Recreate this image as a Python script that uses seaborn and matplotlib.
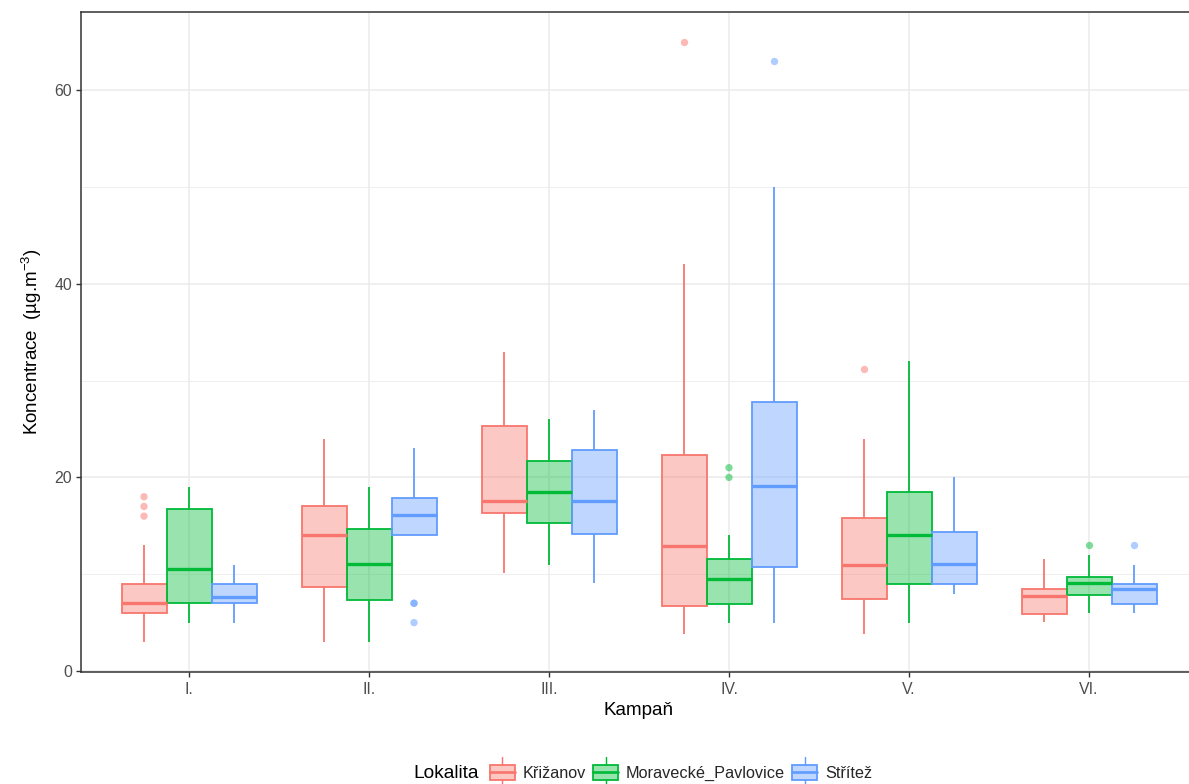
import numpy as np
import pandas as pd
import matplotlib
matplotlib.use("Agg")
import matplotlib.pyplot as plt
import seaborn as sns
from matplotlib.patches import Patch, Rectangle
from matplotlib.lines import Line2D
from matplotlib.legend_handler import HandlerBase
from matplotlib.ticker import FixedLocator

# ---------------- data ----------------
campaigns = ["I.", "II.", "III.", "IV.", "V.", "VI."]
sites = ["Křižanov", "Moravecké_Pavlovice", "Střítež"]
colors = ["#F8766D", "#00BA38", "#619CFF"]

# box statistics per campaign: lower whisker, Q1, median, Q3, upper whisker
krizanov_low = [3.0, 3.0, 10.1, 3.8, 3.8, 5.1]
krizanov_q1 = [6.0, 8.7, 16.3, 6.7, 7.4, 5.9]
krizanov_med = [7.0, 14.1, 17.6, 12.9, 11.0, 7.7]
krizanov_q3 = [9.0, 17.0, 25.3, 22.3, 15.8, 8.5]
krizanov_high = [13.0, 24.0, 33.0, 42.0, 24.0, 11.6]

pavlovice_low = [5.0, 3.0, 11.0, 5.0, 5.0, 6.0]
pavlovice_q1 = [7.0, 7.3, 15.3, 6.9, 9.0, 7.9]
pavlovice_med = [10.5, 11.1, 18.5, 9.5, 14.1, 9.1]
pavlovice_q3 = [16.7, 14.7, 21.7, 11.6, 18.5, 9.7]
pavlovice_high = [19.0, 19.0, 26.0, 14.0, 32.0, 12.0]

stritez_low = [5.0, 14.0, 9.1, 5.0, 8.0, 6.0]
stritez_q1 = [7.0, 14.0, 14.2, 10.7, 9.0, 6.9]
stritez_med = [7.6, 16.1, 17.6, 19.1, 11.1, 8.5]
stritez_q3 = [9.0, 17.9, 22.8, 27.8, 14.4, 9.0]
stritez_high = [11.0, 23.0, 27.0, 50.0, 20.0, 11.0]

# outliers
outlier_campaign = ["I.", "I.", "I.", "II.", "II.", "II.", "IV.", "IV.", "IV.", "IV.", "V.", "VI.", "VI."]
outlier_site = ["Křižanov", "Křižanov", "Křižanov", "Střítež", "Střítež", "Střítež",
                "Křižanov", "Moravecké_Pavlovice", "Moravecké_Pavlovice", "Střítež",
                "Křižanov", "Moravecké_Pavlovice", "Střítež"]
outlier_value = [18.0, 17.0, 16.0, 7.0, 7.0, 5.0, 65.0, 21.0, 20.0, 63.0, 31.2, 13.0, 13.0]

stats = {
    "Křižanov": [krizanov_low, krizanov_q1, krizanov_med, krizanov_q3, krizanov_high],
    "Moravecké_Pavlovice": [pavlovice_low, pavlovice_q1, pavlovice_med, pavlovice_q3, pavlovice_high],
    "Střítež": [stritez_low, stritez_q1, stritez_med, stritez_q3, stritez_high],
}

rows = []
for site in sites:
    cols = stats[site]
    for i, camp in enumerate(campaigns):
        for arr in cols:
            rows.append({"Kampaň": camp, "Lokalita": site, "value": arr[i]})
df = pd.DataFrame(rows)
out_df = pd.DataFrame({"Kampaň": outlier_campaign, "Lokalita": outlier_site, "value": outlier_value})

# ---------------- style ----------------
sns.set_theme(style="white")
plt.rcParams["font.family"] = ["Liberation Sans", "DejaVu Sans"]
plt.rcParams["mathtext.fontset"] = "custom"
plt.rcParams["mathtext.rm"] = "Liberation Sans"
plt.rcParams["mathtext.it"] = "Liberation Sans:italic"
plt.rcParams["mathtext.bf"] = "Liberation Sans:bold"

W, H = 1189, 784
fig = plt.figure(figsize=(W / 100, H / 100), dpi=100)
ax_left, ax_bottom, ax_right, ax_top = 81, 112, 1197, 11.7
ax = fig.add_axes([ax_left / W, ax_bottom / H, (ax_right - ax_left) / W, (H - ax_top - ax_bottom) / H])

palette = dict(zip(sites, colors))
fill_alpha = 0.4
box_lw = 1.3
med_lw = 2.4

for site, col in zip(sites, colors):
    n_before = len(ax.patches)
    sub = df[df["Lokalita"] == site]
    sns.boxplot(data=sub, x="Kampaň", y="value", hue="Lokalita",
                order=campaigns, hue_order=sites, palette=palette, dodge=True,
                whis=np.inf, width=0.75, gap=0, saturation=1,
                linecolor=col, linewidth=box_lw, showcaps=False, showfliers=False,
                medianprops={"linewidth": med_lw}, legend=False, ax=ax, zorder=3)
    for p in ax.patches[n_before:]:
        p.set_facecolor(matplotlib.colors.to_rgba(col, fill_alpha))
        p.set_edgecolor(col)

n_coll = len(ax.collections)
sns.stripplot(data=out_df, x="Kampaň", y="value", hue="Lokalita",
              order=campaigns, hue_order=sites, palette=palette,
              dodge=True, jitter=False, size=5.3, alpha=0.5, linewidth=0,
              legend=False, ax=ax, zorder=4)
# align dodged points with 0.75-wide boxes
for c in ax.collections[n_coll:]:
    off = c.get_offsets()
    if len(off):
        off = np.array(off)
        centers = np.round(off[:, 0])
        off[:, 0] = centers + (off[:, 0] - centers) * (0.75 / 0.8)
        c.set_offsets(off)

# ---------------- axes ----------------
ax.set_xlim(-0.6, 5.6)
ax.set_ylim(-0.1, 68.1)
ax.yaxis.set_major_locator(FixedLocator([0, 20, 40, 60]))
ax.yaxis.set_minor_locator(FixedLocator([10, 30, 50]))
ax.set_axisbelow(True)
ax.grid(True, which="major", color="#EBEBEB", linewidth=1.1, zorder=0)
ax.grid(True, which="minor", axis="y", color="#EBEBEB", linewidth=0.55, zorder=0)
for s in ax.spines.values():
    s.set_visible(True)
    s.set_color("#333333")
    s.set_linewidth(1.1)
ax.tick_params(axis="both", which="major", length=3.5, width=1.0, color="#333333",
               labelcolor="#4D4D4D", labelsize=11.4, pad=3, bottom=True, left=True)
ax.tick_params(axis="x", which="major", pad=3.5)
ax.tick_params(axis="y", which="minor", length=0)

ax.set_xlabel("Kampaň", fontsize=13.5, color="black", labelpad=4)
ax.set_ylabel("Koncentrace  (µg.m$^{-3}$)", fontsize=13.5, color="black", labelpad=7)

# ---------------- legend ----------------
class BoxKeyHandler(HandlerBase):
    def create_artists(self, legend, orig_handle, xdescent, ydescent, width, height, fontsize, trans):
        ec = orig_handle.get_edgecolor()
        fc = orig_handle.get_facecolor()
        x0, y0 = -xdescent, -ydescent
        ext = 6.0
        rect = Rectangle((x0 + 0.6, y0), width - 1.2, height, facecolor=fc, edgecolor=ec,
                         linewidth=box_lw, transform=trans)
        med = Line2D([x0 + 0.6, x0 + width - 0.6], [y0 + height / 2] * 2, color=ec,
                     linewidth=med_lw * 0.8, transform=trans)
        wt = Line2D([x0 + width / 2] * 2, [y0 + height, y0 + height + ext], color=ec,
                    linewidth=box_lw * 0.8, transform=trans)
        wb = Line2D([x0 + width / 2] * 2, [y0, y0 - ext], color=ec,
                    linewidth=box_lw * 0.8, transform=trans)
        return [rect, med, wt, wb]

handles = [Patch(facecolor=matplotlib.colors.to_rgba(c, fill_alpha), edgecolor=c) for c in colors]
leg_y = (H - 773) / H
fig.text(413 / W, leg_y, "Lokalita", fontsize=13.8, ha="left", va="center", color="black")
fig.legend(handles, sites, handler_map={Patch: BoxKeyHandler()},
           loc="center left", bbox_to_anchor=(489 / W, leg_y), ncol=3, frameon=False,
           fontsize=11.7, handlelength=1.66, handleheight=1.05, handletextpad=0.42,
           columnspacing=0.38, borderpad=0, borderaxespad=0)

fig.savefig("out.png", dpi=100)
